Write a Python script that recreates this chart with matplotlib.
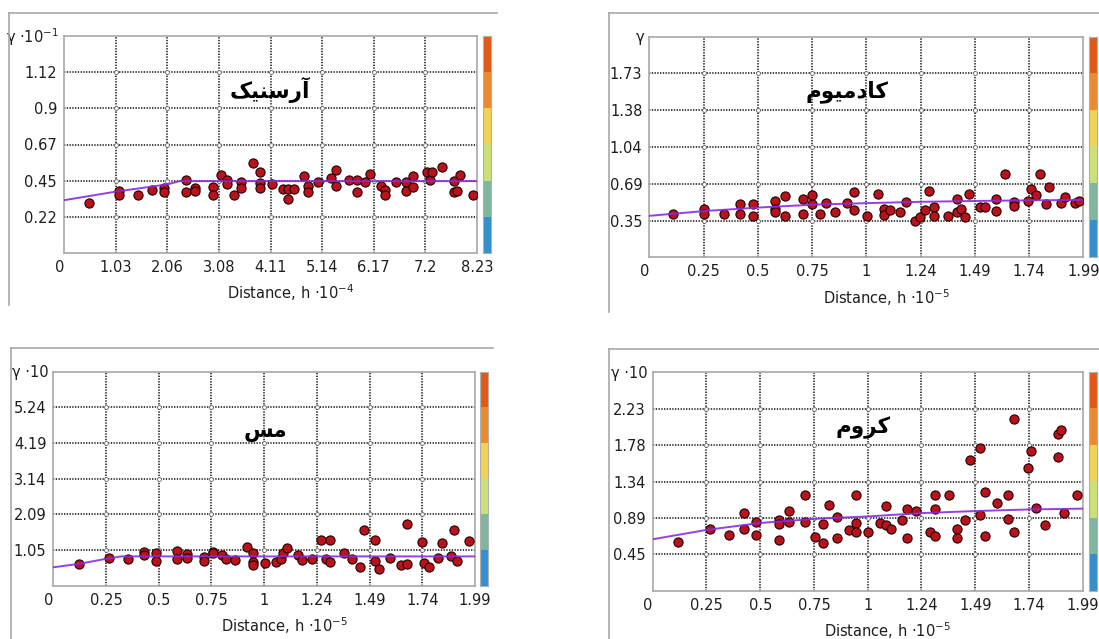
import numpy as np
import matplotlib
matplotlib.use('Agg')
import matplotlib.pyplot as plt
from matplotlib.lines import Line2D
from matplotlib.transforms import offset_copy

# ---- data ----
# arsenic
as_x = [0.50, 1.09, 1.09, 1.47, 1.75, 2.00, 2.00, 2.44, 2.44, 2.62, 2.62, 2.97, 2.97, 3.13, 3.24, 3.24, 3.39,
        3.53, 3.53, 3.77, 3.91, 3.91, 3.91, 4.15, 4.37, 4.47, 4.47, 4.59, 4.78, 4.87, 4.87, 5.06, 5.33, 5.43,
        5.43, 5.68, 5.83, 5.83, 6.00, 6.10, 6.32, 6.40, 6.40, 6.62, 6.81, 6.81, 6.96, 6.96, 7.23, 7.29, 7.33,
        7.53, 7.78, 7.78, 7.84, 7.89, 8.16]
as_y = [0.31, 0.385, 0.358, 0.358, 0.389, 0.403, 0.375, 0.455, 0.375, 0.403, 0.385, 0.41, 0.358, 0.484, 0.455,
        0.43, 0.358, 0.44, 0.40, 0.555, 0.502, 0.435, 0.40, 0.426, 0.395, 0.395, 0.337, 0.395, 0.476, 0.414,
        0.378, 0.44, 0.465, 0.513, 0.414, 0.455, 0.455, 0.377, 0.44, 0.492, 0.414, 0.393, 0.358, 0.437, 0.437,
        0.385, 0.476, 0.41, 0.502, 0.455, 0.502, 0.533, 0.445, 0.377, 0.385, 0.484, 0.358]
as_model_x = [0, 1.03, 2.06, 2.3, 8.23]
as_model_y = [0.327, 0.38, 0.425, 0.445, 0.445]

# cadmium
cd_x = [0.108, 0.251, 0.251, 0.343, 0.415, 0.415, 0.476, 0.476, 0.578, 0.578, 0.578, 0.623, 0.623, 0.704, 0.704,
        0.745, 0.745, 0.784, 0.811, 0.850, 0.907, 0.937, 0.937, 0.996, 1.049, 1.076, 1.076, 1.102, 1.149, 1.176,
        1.217, 1.240, 1.265, 1.283, 1.306, 1.306, 1.370, 1.409, 1.409, 1.429, 1.447, 1.467, 1.518, 1.540, 1.590,
        1.590, 1.629, 1.671, 1.671, 1.736, 1.752, 1.775, 1.790, 1.821, 1.833, 1.890, 1.908, 1.951, 1.970]
cd_y = [0.408, 0.456, 0.408, 0.408, 0.505, 0.408, 0.505, 0.391, 0.530, 0.456, 0.424, 0.579, 0.391, 0.547, 0.408,
        0.585, 0.498, 0.408, 0.515, 0.424, 0.515, 0.612, 0.443, 0.391, 0.595, 0.450, 0.401, 0.443, 0.424, 0.520,
        0.346, 0.379, 0.443, 0.627, 0.472, 0.391, 0.391, 0.547, 0.424, 0.450, 0.379, 0.595, 0.472, 0.472, 0.547,
        0.440, 0.783, 0.520, 0.482, 0.530, 0.644, 0.585, 0.783, 0.505, 0.660, 0.515, 0.563, 0.515, 0.530]
cd_model_x = [0, 0.25, 0.5, 0.75, 1.0, 1.24, 1.49, 1.74, 1.99]
cd_model_y = [0.39, 0.435, 0.468, 0.495, 0.51, 0.522, 0.53, 0.536, 0.54]

# copper
cu_x = [0.119, 0.265, 0.354, 0.428, 0.428, 0.484, 0.484, 0.585, 0.585, 0.629, 0.629, 0.710, 0.710, 0.754, 0.754,
        0.794, 0.817, 0.856, 0.914, 0.943, 0.943, 0.943, 1.001, 1.053, 1.076, 1.084, 1.103, 1.154, 1.175, 1.220,
        1.265, 1.285, 1.307, 1.307, 1.371, 1.409, 1.445, 1.465, 1.519, 1.519, 1.539, 1.589, 1.641, 1.669, 1.669,
        1.738, 1.751, 1.774, 1.814, 1.832, 1.877, 1.892, 1.903, 1.963]
cu_y = [0.64, 0.824, 0.773, 0.996, 0.895, 0.946, 0.721, 1.017, 0.773, 0.916, 0.814, 0.845, 0.721, 0.996, 0.946,
        0.895, 0.773, 0.742, 1.148, 0.946, 0.691, 0.62, 0.672, 0.691, 0.794, 0.946, 1.117, 0.895, 0.742, 0.773,
        1.331, 0.794, 1.331, 0.691, 0.965, 0.794, 0.539, 1.626, 1.331, 0.721, 0.489, 0.824, 0.61, 0.64, 1.809,
        1.28, 0.672, 0.539, 0.824, 1.251, 0.874, 1.626, 0.721, 1.30]
cu_model_x = [0, 0.12, 0.25, 0.32, 1.99]
cu_model_y = [0.54, 0.64, 0.79, 0.86, 0.86]

# chromium
cr_x = [0.118, 0.264, 0.352, 0.423, 0.423, 0.480, 0.480, 0.584, 0.584, 0.584, 0.630, 0.630, 0.707, 0.707, 0.752,
        0.787, 0.787, 0.818, 0.853, 0.853, 0.910, 0.941, 0.941, 0.941, 0.995, 1.082, 1.052, 1.079, 1.102, 1.153,
        1.176, 1.176, 1.220, 1.284, 1.307, 1.307, 1.307, 1.371, 1.407, 1.407, 1.445, 1.468, 1.517, 1.517, 1.540,
        1.540, 1.592, 1.644, 1.644, 1.672, 1.672, 1.736, 1.751, 1.774, 1.817, 1.875, 1.875, 1.889, 1.905, 1.963]
cr_y = [0.601, 0.751, 0.682, 0.956, 0.760, 0.682, 0.841, 0.865, 0.813, 0.621, 0.976, 0.841, 1.168, 0.841, 0.662,
        0.580, 0.821, 1.045, 0.650, 0.902, 0.743, 1.168, 0.825, 0.723, 0.723, 1.037, 0.833, 0.800, 0.760, 0.865,
        0.996, 0.650, 0.976, 0.723, 1.168, 0.996, 0.670, 1.168, 0.760, 0.650, 0.865, 1.596, 1.751, 0.923, 1.208,
        0.670, 1.070, 1.168, 0.882, 2.098, 0.723, 1.498, 1.710, 1.017, 0.800, 1.637, 1.914, 1.963, 0.956, 1.168]
cr_model_x = [0, 0.25, 0.5, 0.75, 1.0, 1.24, 1.49, 1.74, 1.99]
cr_model_y = [0.63, 0.745, 0.83, 0.88, 0.91, 0.95, 0.975, 0.995, 1.005]

# tick labels
x_labels_as = ['0', '1.03', '2.06', '3.08', '4.11', '5.14', '6.17', '7.2', '8.23']
x_labels_5 = ['0', '0.25', '0.5', '0.75', '1', '1.24', '1.49', '1.74', '1.99']
y_labels_as = ['0.22', '0.45', '0.67', '0.9', '1.12']
y_labels_cd = ['0.35', '0.69', '1.04', '1.38', '1.73']
y_labels_cu = ['1.05', '2.09', '3.14', '4.19', '5.24']
y_labels_cr = ['0.45', '0.89', '1.34', '1.78', '2.23']

# Persian names, written in presentation forms (visual order) so they join
name_as = '\uFB8F\uFEF4\uFEE8\uFEB3\uFEAD\uFE81'         # آرسنیک
name_cd = '\uFEE1\uFEEE\uFEF4\uFEE3\uFEA9\uFE8E\uFB90'   # کادمیوم
name_cu = '\uFEB2\uFEE3'                                 # مس
name_cr = '\uFEE1\uFEED\uFEAE\uFB90'                     # کروم

bar_colors = ['#3490cc', '#7fb79e', '#cbe07b', '#f2d155', '#ec8a2e', '#e05a16']

W, H = 1099, 639
fig = plt.figure(figsize=(W / 100, H / 100), dpi=100)
fig.patch.set_facecolor('white')

FONT = 'DejaVu Sans'
TXT = '#1e1e1e'


def px_rect(x0, y0, x1, y1):
    return [x0 / W, 1 - y1 / H, (x1 - x0) / W, (y1 - y0) / H]


def frame(x0, y0, x1, y1):
    # the grey window border of each screenshot
    fig.add_artist(Line2D([x0 / W, x1 / W], [1 - y0 / H, 1 - y0 / H], color='#a8a8a8', lw=1.2))
    fig.add_artist(Line2D([x0 / W, x0 / W], [1 - y0 / H, 1 - y1 / H], color='#a8a8a8', lw=1.2))


def panel(box, cbox, xs, ys, mx, my, xmax, xlabels, ystep, ylabels, ylab, xlab, name, name_pos):
    ax = fig.add_axes(px_rect(*box))
    xstep = xmax / 8
    xt = [xstep * k for k in range(9)]
    yt = [ystep * k for k in range(1, 6)]
    ax.set_xlim(0, xmax)
    ax.set_ylim(0, ystep * 6)

    for v in xt[1:-1]:
        ax.axvline(v, color='#111111', lw=1.1, ls=(0, (0.9, 0.9)), zorder=1)
    for v in yt:
        ax.axhline(v, color='#111111', lw=1.1, ls=(0, (0.9, 0.9)), zorder=1)
    gx, gy = np.meshgrid(xt[1:-1], yt)
    ax.plot(gx.ravel(), gy.ravel(), 'o', ms=2.8, mfc='white', mec='#666666', mew=0.6, zorder=2)

    ax.plot(xs, ys, 'o', ms=6.6, mfc='#b8121c', mec='#200000', mew=0.8, zorder=3)
    ax.plot(mx, my, color='#8a2be2', lw=1.4, alpha=0.9, zorder=4)

    ax.set_xticks(xt)
    ax.set_xticklabels(xlabels, fontsize=10.5, color=TXT, family=FONT)
    ax.get_xticklabels()[0].set_horizontalalignment('right')
    ax.set_yticks(yt)
    ax.set_yticklabels(ylabels, fontsize=10.5, color=TXT, family=FONT)
    ax.tick_params(length=0, pad=5)
    for sp in ax.spines.values():
        sp.set_color('#a8a8a8')
        sp.set_linewidth(1.2)

    tr = offset_copy(ax.transAxes, fig=fig, x=-5, y=-1, units='dots')
    ax.text(0, 1, ylab, transform=tr, ha='right', va='center', fontsize=10.5, color=TXT, family=FONT)
    tr2 = offset_copy(ax.transAxes, fig=fig, x=20, y=-40, units='dots')
    ax.text(0.5, 0, xlab, transform=tr2, ha='center', va='center', fontsize=10.5, color=TXT, family=FONT)
    ax.text(name_pos[0], name_pos[1], name, transform=ax.transAxes, ha='center', va='center',
            fontsize=15.5, fontweight='bold', color='black', family=FONT)

    cax = fig.add_axes(px_rect(*cbox))
    cax.imshow(np.arange(6).reshape(6, 1)[::-1], aspect='auto',
               cmap=matplotlib.colors.ListedColormap(bar_colors), extent=(0, 1, 0, 6))
    cax.set_xticks([])
    cax.set_yticks([])
    for sp in cax.spines.values():
        sp.set_color('#b0b0b0')
        sp.set_linewidth(0.8)
    return ax


frame(9, 12.7, 497, 305)
frame(609, 12.7, 1099, 312)
frame(10.7, 348.3, 492.7, 639)
frame(608.7, 349, 1099, 639)

panel((64, 36, 477, 253), (483, 36, 491, 253), as_x, as_y, as_model_x, as_model_y,
      8.23, x_labels_as, 0.224, y_labels_as,
      'γ ·10$^{-1}$', 'Distance, h ·10$^{-4}$', name_as, (0.499, 0.751))
panel((649.3, 36.7, 1083.3, 257.3), (1089, 36.7, 1097, 257.3), cd_x, cd_y, cd_model_x, cd_model_y,
      1.99, x_labels_5, 0.346, y_labels_cd,
      'γ', 'Distance, h ·10$^{-5}$', name_cd, (0.455, 0.75))
panel((53.3, 371.7, 475, 585.7), (480, 371.7, 488, 585.7), cu_x, cu_y, cu_model_x, cu_model_y,
      1.99, x_labels_5, 1.047, y_labels_cu,
      'γ ·10', 'Distance, h ·10$^{-5}$', name_cu, (0.502, 0.72))
panel((652.7, 372.3, 1082.7, 590.7), (1089, 372.3, 1097, 590.7), cr_x, cr_y, cr_model_x, cr_model_y,
      1.99, x_labels_5, 0.4458, y_labels_cr,
      'γ ·10', 'Distance, h ·10$^{-5}$', name_cr, (0.49, 0.744))

fig.savefig('out.png', dpi=100)
